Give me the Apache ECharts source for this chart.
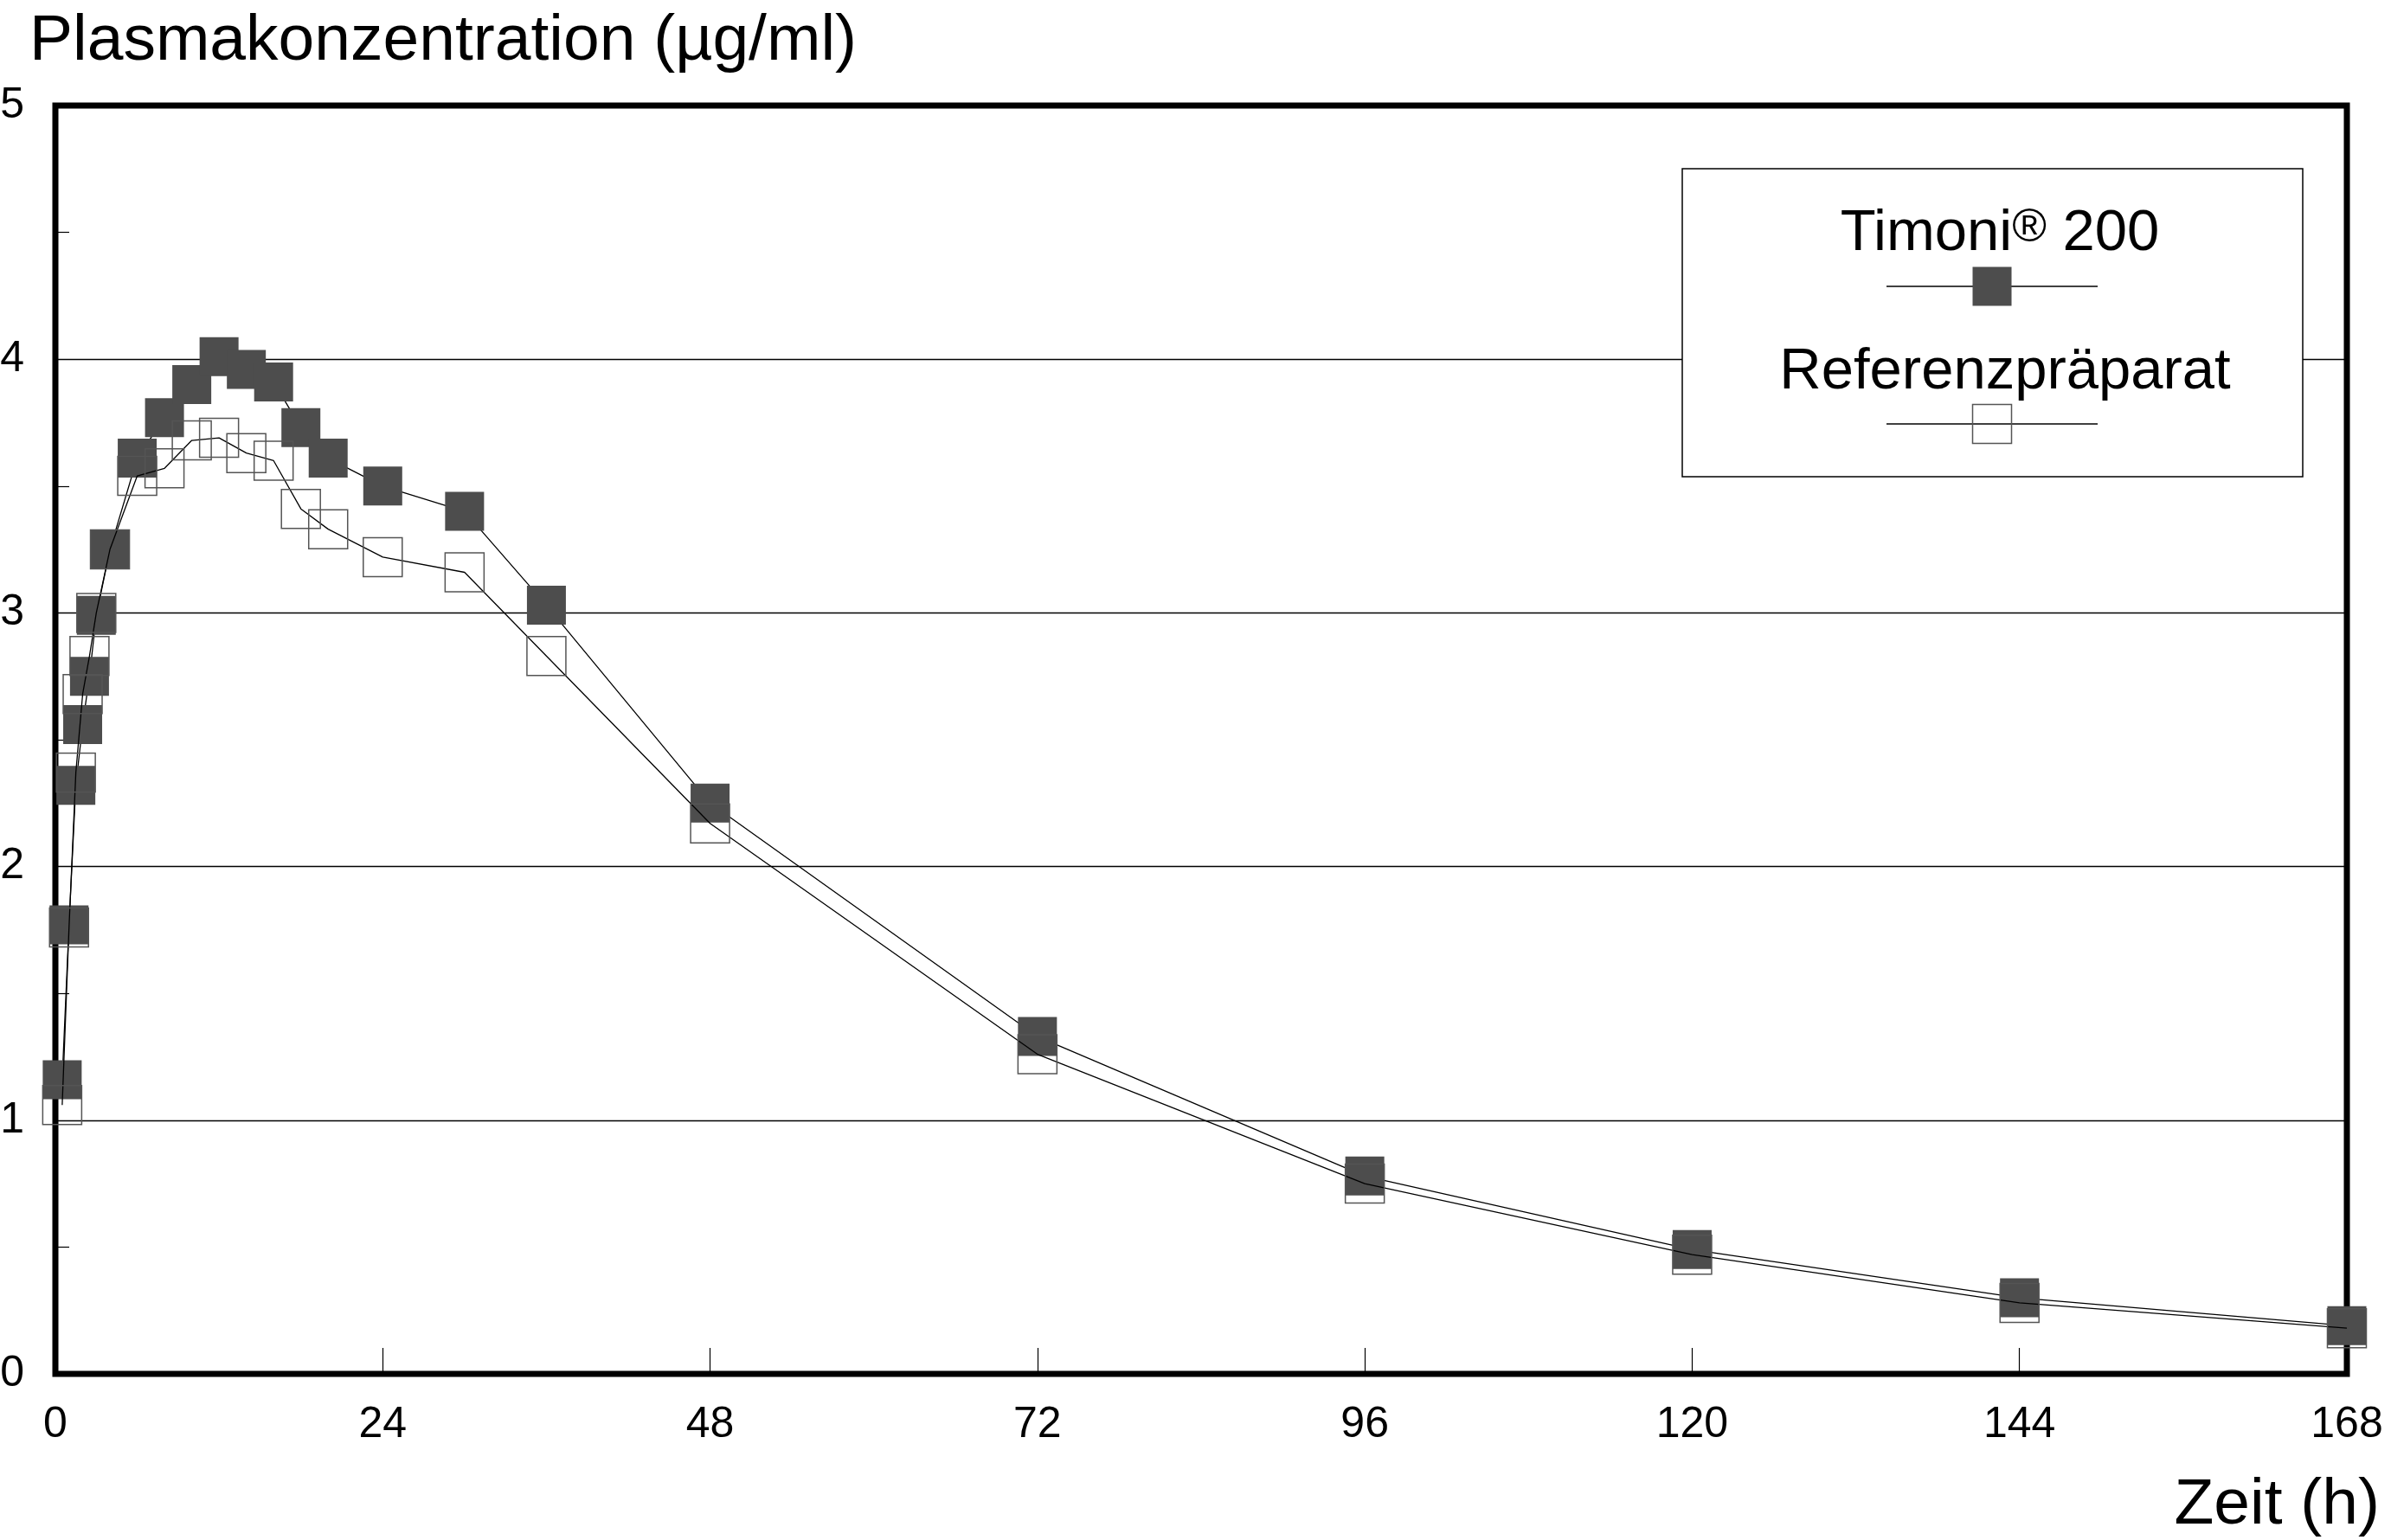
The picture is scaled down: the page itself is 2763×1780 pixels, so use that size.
<!DOCTYPE html>
<html>
<head>
<meta charset="utf-8">
<title>Plasmakonzentration</title>
<script src="https://cdn.jsdelivr.net/npm/echarts@6/dist/echarts.min.js"></script>
<style>
  html, body { margin: 0; padding: 0; background: #fff; }
  .main { width: 2763px; height: 1780px; }
</style>
</head>
<body>
<div class="main"></div>
<script>
// Sampling times (h) and mean plasma levels (µg/ml)
let hours = [0.5, 1, 1.5, 2, 2.5, 3, 4, 6, 8, 10, 12, 14, 16, 18, 20, 24, 30, 36, 48, 72, 96, 120, 144, 168];
let timoni = [1.16, 1.77, 2.32, 2.56, 2.75, 2.99, 3.25, 3.61, 3.77, 3.90, 4.01, 3.96, 3.91, 3.73, 3.61, 3.50, 3.40, 3.03, 2.25, 1.33, 0.78, 0.49, 0.30, 0.19];
let referenz = [1.06, 1.76, 2.37, 2.68, 2.83, 3.00, 3.25, 3.54, 3.57, 3.68, 3.69, 3.63, 3.60, 3.41, 3.33, 3.22, 3.16, 2.83, 2.17, 1.26, 0.75, 0.47, 0.28, 0.18];
let xTicks = [0, 24, 48, 72, 96, 120, 144, 168];
let yTicks = [0, 1, 2, 3, 4, 5];
let seriesNames = ['Timoni® 200', 'Referenzpräparat'];

let font = "'Liberation Sans', Arial, sans-serif";
let myChart = echarts.init(document.querySelector('.main'));

function pairs(values) {
  return hours.map((h, i) => [h, values[i]]);
}

let option = {
  animation: false,
  backgroundColor: '#fff',
  textStyle: { fontFamily: font },
  title: [
    {
      text: 'Plasmakonzentration (µg/ml)',
      left: 34, top: 11, padding: 0,
      textStyle: { fontSize: 75, fontWeight: 'normal', color: '#000', fontFamily: font }
    },
    {
      text: 'Zeit (h)',
      right: 13, top: 1703, padding: 0,
      textStyle: { fontSize: 75, fontWeight: 'normal', color: '#000', fontFamily: font }
    }
  ],
  grid: {
    left: 64, right: 51, top: 122, bottom: 192,
    show: true, borderColor: '#000', borderWidth: 7,
    outerBoundsMode: 'none'
  },
  xAxis: {
    type: 'value',
    min: xTicks[0], max: xTicks[xTicks.length - 1], interval: xTicks[1] - xTicks[0],
    axisLine: { show: false },
    axisTick: { show: true, inside: true, length: 30, lineStyle: { color: '#000', width: 1.2 } },
    axisLabel: { fontSize: 50, color: '#000', margin: 34, fontFamily: font },
    splitLine: { show: false }
  },
  yAxis: {
    type: 'value',
    min: yTicks[0], max: yTicks[yTicks.length - 1], interval: yTicks[1] - yTicks[0],
    axisLine: { show: false },
    axisTick: { show: true, inside: true, length: 35, lineStyle: { color: '#000', width: 1.2 } },
    minorTick: { show: true, splitNumber: 2, length: 16, lineStyle: { color: '#000', width: 1.2 } },
    axisLabel: { fontSize: 50, color: '#000', margin: 36, fontFamily: font },
    splitLine: { show: true, lineStyle: { color: '#000', width: 1.3 } }
  },
  series: [
    {
      name: seriesNames[0],
      type: 'line',
      data: pairs(timoni),
      symbol: 'rect',
      symbolSize: 45,
      itemStyle: { color: '#4d4d4d' },
      lineStyle: { color: '#000', width: 1.3 },
      emphasis: { disabled: true },
      z: 3
    },
    {
      name: seriesNames[1],
      type: 'line',
      data: pairs(referenz),
      symbol: 'rect',
      symbolSize: 45,
      itemStyle: { color: 'rgba(0,0,0,0)', borderColor: '#555', borderWidth: 1.5 },
      lineStyle: { color: '#000', width: 1.3 },
      emphasis: { disabled: true },
      z: 4
    }
  ],
  // legend box drawn by hand: text above a line with the marker
  graphic: [
    {
      type: 'rect', z: 100,
      shape: { x: 1944, y: 195, width: 717, height: 356 },
      style: { fill: '#fff', stroke: '#000', lineWidth: 1.5 }
    },
    {
      type: 'text', z: 101, x: 2311, y: 271,
      style: {
        text: '{n|Timoni}{s|®}{n| 200}',
        align: 'center', verticalAlign: 'middle',
        rich: {
          n: { fontSize: 67, fontFamily: font, fill: '#000' },
          s: { fontSize: 54, fontFamily: font, fill: '#000', verticalAlign: 'top' }
        }
      }
    },
    {
      type: 'line', z: 101,
      shape: { x1: 2180, y1: 331, x2: 2424, y2: 331 },
      style: { stroke: '#000', lineWidth: 1.3 }
    },
    {
      type: 'rect', z: 102,
      shape: { x: 2279.5, y: 308.5, width: 45, height: 45 },
      style: { fill: '#4d4d4d' }
    },
    {
      type: 'text', z: 101, x: 2317, y: 431,
      style: {
        text: seriesNames[1],
        align: 'center', verticalAlign: 'middle',
        font: '67px ' + font, fill: '#000'
      }
    },
    {
      type: 'line', z: 101,
      shape: { x1: 2180, y1: 490, x2: 2424, y2: 490 },
      style: { stroke: '#000', lineWidth: 1.3 }
    },
    {
      type: 'rect', z: 102,
      shape: { x: 2279.5, y: 467.5, width: 45, height: 45 },
      style: { fill: 'none', stroke: '#555', lineWidth: 1.5 }
    }
  ]
};

option && myChart.setOption(option);
</script>
</body>
</html>
